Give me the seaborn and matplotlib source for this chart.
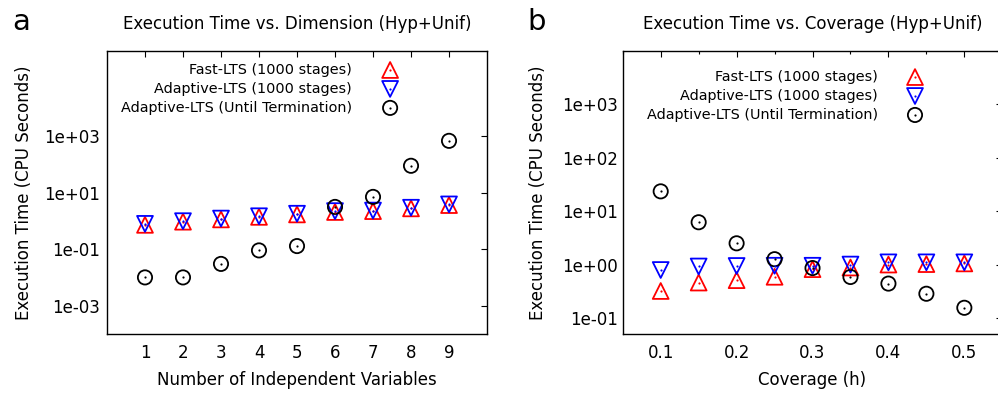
import matplotlib
matplotlib.use("Agg")
import matplotlib.pyplot as plt
import seaborn as sns
from matplotlib.ticker import FixedLocator, FuncFormatter, NullLocator, LogLocator, MultipleLocator

# ---- data -------------------------------------------------------------
dims = [1, 2, 3, 4, 5, 6, 7, 8, 9]
fast_dim = [0.72, 0.93, 1.12, 1.38, 1.68, 2.05, 2.2, 2.75, 3.6]
adapt_dim = [0.78, 0.97, 1.2, 1.45, 1.78, 2.2, 2.3, 2.9, 3.8]
term_dim = [0.01, 0.01, 0.03, 0.09, 0.128, 3.1, 7.0, 88, 670]

coverage = [0.10, 0.15, 0.20, 0.25, 0.30, 0.35, 0.40, 0.45, 0.50]
fast_cov = [0.32, 0.46, 0.51, 0.59, 0.82, 0.88, 1.0, 1.02, 1.05]
adapt_cov = [0.79, 0.92, 0.94, 0.95, 0.95, 1.0, 1.1, 1.1, 1.1]
term_cov = [23.5, 6.2, 2.5, 1.26, 0.86, 0.585, 0.44, 0.284, 0.155]

series_names = ["Fast-LTS (1000 stages)",
                "Adaptive-LTS (1000 stages)",
                "Adaptive-LTS (Until Termination)"]
series_colors = ["#ff0000", "#0000ff", "#000000"]
series_markers = ["^", "v", "o"]
series_sizes = [130, 130, 105]

# ---- style -------------------------------------------------------------
sns.set_style("white")
plt.rcParams["font.family"] = ["DejaVu Sans"]
plt.rcParams["font.size"] = 12
for key in ("text.color", "axes.labelcolor", "xtick.color", "ytick.color",
            "axes.edgecolor"):
    plt.rcParams[key] = "black"

fig = plt.figure(figsize=(9.98, 3.93), dpi=100)
ax_a = fig.add_axes([0.1072, 0.1501, 0.3808, 0.7201])
ax_b = fig.add_axes([0.6240, 0.1501, 0.3803, 0.7201])


def draw_series(ax, xs, ys_list):
    for ys, c, m, s in zip(ys_list, series_colors, series_markers, series_sizes):
        sns.scatterplot(x=xs, y=ys, marker=m, s=s, facecolor="none",
                        edgecolor=c, linewidth=1.3, ax=ax, zorder=3)
        sns.scatterplot(x=xs, y=ys, marker="o", s=2.5, color=c,
                        linewidth=0, ax=ax, zorder=4)


def draw_key(ax, xtext, xmark, rows):
    for name, c, m, s, yy in zip(series_names, series_colors, series_markers,
                                 series_sizes, rows):
        ax.text(xtext, yy, name, transform=ax.transAxes, ha="right",
                va="center", fontsize=10.4)
        ax.scatter([xmark], [yy], marker=m, s=s, facecolor="none",
                   edgecolor=c, linewidth=1.3, transform=ax.transAxes,
                   clip_on=False, zorder=5)
        ax.scatter([xmark], [yy], marker="o", s=2.5, color=c, linewidth=0,
                   transform=ax.transAxes, clip_on=False, zorder=6)


def frame(ax):
    for sp in ax.spines.values():
        sp.set_visible(True)
        sp.set_color("black")
        sp.set_linewidth(1.0)
    ax.tick_params(which="both", direction="in", top=True, right=True,
                   color="black", width=0.8, labelcolor="black")
    ax.tick_params(which="major", length=4.5)
    ax.tick_params(which="minor", length=2.5)


sci = FuncFormatter(lambda v, p: f"{v:.0e}")

# ---- panel a -----------------------------------------------------------
draw_series(ax_a, dims, [fast_dim, adapt_dim, term_dim])
ax_a.set_yscale("log")
ax_a.set_xlim(0, 10)
ax_a.set_ylim(1e-4, 1e6)
ax_a.xaxis.set_major_locator(FixedLocator(dims))
ax_a.yaxis.set_major_locator(FixedLocator([1e-3, 1e-1, 1e1, 1e3]))
ax_a.yaxis.set_major_formatter(sci)
ax_a.yaxis.set_minor_locator(NullLocator())
ax_a.xaxis.set_minor_locator(NullLocator())
frame(ax_a)
ax_a.tick_params(axis="x", pad=7)
ax_a.tick_params(axis="y", pad=5)
ax_a.set_xlabel("Number of Independent Variables")
ax_a.set_ylabel("Execution Time (CPU Seconds)")
ax_a.xaxis.set_label_coords(0.5, -0.13)
ax_a.yaxis.set_label_coords(-0.195, 0.5)
ax_a.text(0.5, 1.0965, "Execution Time vs. Dimension (Hyp+Unif)",
          transform=ax_a.transAxes, ha="center", va="center")
draw_key(ax_a, 0.645, 0.745, [0.933, 0.866, 0.799])

# ---- panel b -----------------------------------------------------------
draw_series(ax_b, coverage, [fast_cov, adapt_cov, term_cov])
ax_b.set_yscale("log")
ax_b.set_xlim(0.05, 0.55)
ax_b.set_ylim(0.05, 1e4)
ax_b.xaxis.set_major_locator(FixedLocator([0.1, 0.2, 0.3, 0.4, 0.5]))
ax_b.xaxis.set_minor_locator(MultipleLocator(0.05))
ax_b.xaxis.set_major_formatter(FuncFormatter(lambda v, p: f"{v:.1f}"))
ax_b.yaxis.set_major_locator(FixedLocator([1e-1, 1e0, 1e1, 1e2, 1e3, 1e4]))
ax_b.yaxis.set_minor_locator(LogLocator(base=10, subs=range(2, 10)))
ax_b.yaxis.set_major_formatter(
    FuncFormatter(lambda v, p: "" if v > 5e3 else f"{v:.0e}"))
frame(ax_b)
ax_b.tick_params(axis="x", pad=7)
ax_b.tick_params(axis="y", pad=3.5)
ax_b.set_xlabel("Coverage (h)")
ax_b.set_ylabel("Execution Time (CPU Seconds)")
ax_b.xaxis.set_label_coords(0.5, -0.13)
ax_b.yaxis.set_label_coords(-0.2, 0.5)
ax_b.text(0.5, 1.0965, "Execution Time vs. Coverage (Hyp+Unif)",
          transform=ax_b.transAxes, ha="center", va="center")
draw_key(ax_b, 0.672, 0.770, [0.908, 0.841, 0.774])

# ---- panel letters -----------------------------------------------------
fig.text(0.012, 0.924, "a", fontsize=21, va="baseline", ha="left")
fig.text(0.528, 0.924, "b", fontsize=21, va="baseline", ha="left")

fig.savefig("out.png", dpi=100)
